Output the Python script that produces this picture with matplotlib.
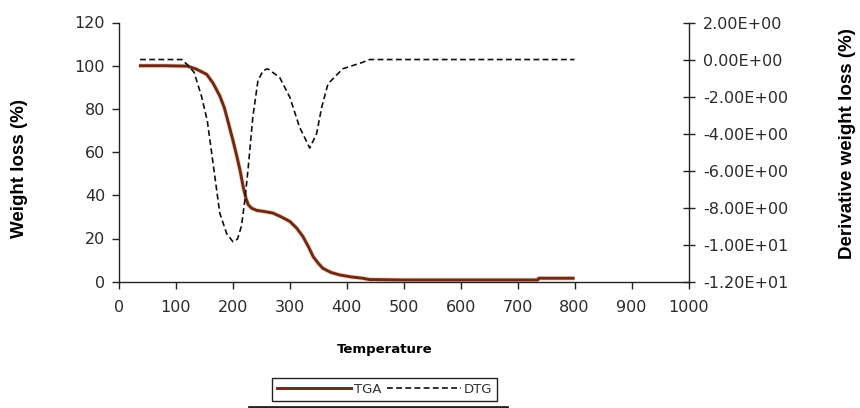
import matplotlib
matplotlib.use("Agg")
import matplotlib.pyplot as plt
from matplotlib.lines import Line2D

# ---- data ----
tga_temp = [35, 80, 120, 135, 154, 165, 177, 185, 192, 200, 207, 213, 218, 223, 227,
            233, 242, 255, 270, 285, 300, 312, 323, 333, 341, 350, 358, 372, 388, 408,
            428, 440, 500, 600, 700, 735, 737, 800]
tga_weight = [100, 100, 99.8, 98.5, 96, 92, 86, 80.5, 73.6, 65.5, 58, 51, 44, 38.5, 35.6,
              34, 33, 32.5, 31.8, 30, 27.9, 24.8, 20.9, 16, 11.6, 8.5, 6.2, 4.3, 3.1, 2.2,
              1.6, 1.0, 0.8, 0.8, 0.8, 0.8, 1.6, 1.6]

dtg_temp = [37, 110, 121, 132, 145, 155, 166, 177, 189, 200, 208, 215, 221, 227, 235,
            244, 253, 261, 282, 300, 317, 335, 347, 356, 367, 393, 428, 440, 800]
dtg_value = [0, 0, -0.3, -0.7, -2.0, -3.3, -5.8, -8.3, -9.4, -9.84, -9.7, -9.0, -7.6, -5.8, -3.1,
             -1.14, -0.6, -0.5, -0.96, -2.04, -3.65, -4.78, -4.0, -2.57, -1.31, -0.5, -0.15, 0, 0]

x_ticks = list(range(0, 1001, 100))
left_ticks = list(range(0, 121, 20))
right_ticks = list(range(-12, 3, 2))

TICK_FONT = dict(family="DejaVu Sans", size=11.5)
TXT = "#2b2b2b"

fig = plt.figure(figsize=(8.6, 4.08), dpi=100)
ax = fig.add_axes([119 / 860, 1 - 281.7 / 408, (688.5 - 119) / 860, (281.7 - 22.5) / 408])
ax2 = ax.twinx()

# TGA
ax.plot(tga_temp, tga_weight, color="#f6d8c0", lw=3.4, solid_capstyle="butt", zorder=2)
ax.plot(tga_temp, tga_weight, color="#6e2818", lw=2.1, solid_capstyle="butt", zorder=3)
# DTG
ax2.plot(dtg_temp, dtg_value, color="#111111", lw=1.2, linestyle=(0, (3.5, 2.0)), zorder=3)

ax.set_xlim(0, 1000)
ax.set_ylim(0, 120)
ax2.set_ylim(-12, 2)
ax.set_xticks(x_ticks)
ax.set_yticks(left_ticks)
ax2.set_yticks(right_ticks)
ax.set_xticklabels([str(t) for t in x_ticks], **TICK_FONT, color=TXT)
ax.set_yticklabels([str(t) for t in left_ticks], **TICK_FONT, color=TXT)
ax2.set_yticklabels(["{:.2E}".format(v) for v in right_ticks], **TICK_FONT, color=TXT)

for a in (ax, ax2):
    for s in a.spines.values():
        s.set_visible(False)
ax.spines["left"].set_visible(True)
ax.spines["bottom"].set_visible(True)
ax2.spines["right"].set_visible(True)
for s in (ax.spines["left"], ax.spines["bottom"], ax2.spines["right"]):
    s.set_color("#222222")
    s.set_linewidth(1.0)

ax.tick_params(axis="x", direction="out", length=5, width=1, color="#222222", pad=8)
ax.tick_params(axis="y", direction="out", length=5, width=1, color="#222222", pad=5)
ax2.tick_params(axis="y", direction="inout", length=9, width=1, color="#222222", pad=6)

fig.text(20 / 860, 1 - 168 / 408, "Weight loss (%)", rotation=90, ha="center", va="center",
         family="Liberation Sans", weight="bold", size=13.5, color="#000000")
fig.text(847 / 860, 1 - 143.5 / 408, "Derivative weight loss (%)", rotation=90, ha="center",
         va="center", family="Liberation Sans", weight="bold", size=13.5, color="#000000")
fig.text(385 / 860, 1 - 350 / 408, "Temperature", ha="center", va="center",
         family="DejaVu Sans", weight="bold", size=9.5, color="#000000")

handles = [Line2D([], [], color="#6e2818", lw=2.1),
           Line2D([], [], color="#111111", lw=1.2, linestyle=(0, (3.5, 2.0)))]
leg = fig.legend(handles, ["TGA", "DTG"], ncol=2, loc="center",
                 bbox_to_anchor=(384.5 / 860, 1 - 389.5 / 408),
                 prop=dict(family="DejaVu Sans", size=9.5), frameon=True, fancybox=False,
                 edgecolor="#222222", framealpha=1, handlelength=5.6, handletextpad=0.25,
                 columnspacing=0.4, borderpad=0.35, borderaxespad=0)
leg.get_frame().set_linewidth(1.0)
for t in leg.get_texts():
    t.set_color("#333333")

fig.add_artist(Line2D([249 / 860, 507 / 860], [1 - 407 / 408, 1 - 407 / 408],
                      color="#222222", lw=2.0, transform=fig.transFigure))

fig.savefig("out.png", dpi=100)
